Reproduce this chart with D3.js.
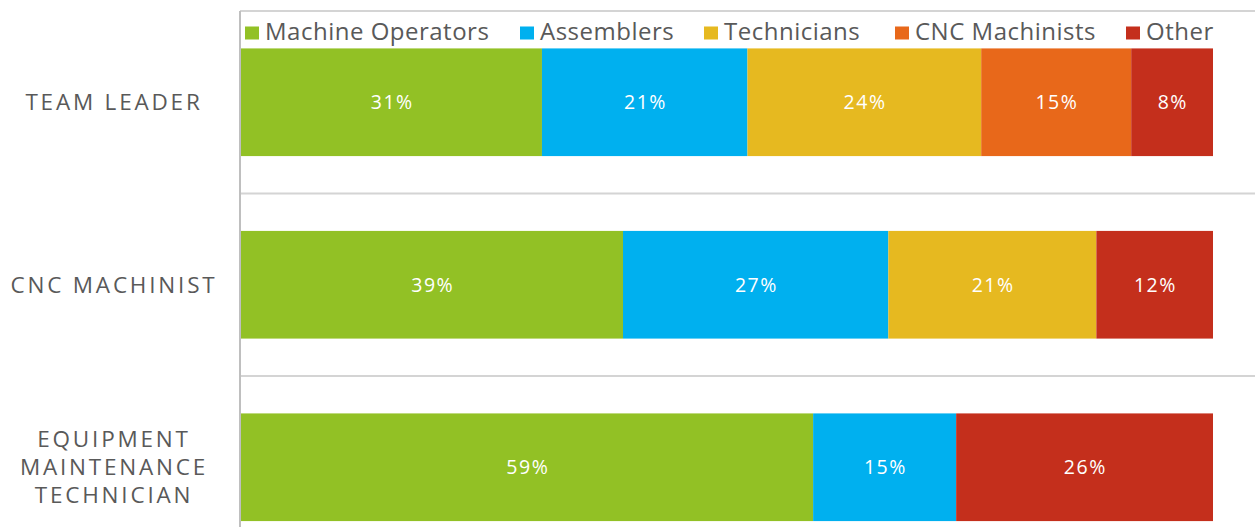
<!DOCTYPE html>
<html>
<head>
<meta charset="utf-8">
<script src="https://cdn.jsdelivr.net/npm/d3@7"></script>
<style>
  html, body { margin: 0; padding: 0; background: #fff; }
  svg { display: block; }
</style>
</head>
<body>
<svg id="chart" width="1255" height="527"></svg>
<script>
// ---- data ----
const categories = ["TEAM LEADER", "CNC MACHINIST", "EQUIPMENT MAINTENANCE TECHNICIAN"];
const categoryLines = [["TEAM LEADER"], ["CNC MACHINIST"], ["EQUIPMENT", "MAINTENANCE", "TECHNICIAN"]];
const seriesNames = ["Machine Operators", "Assemblers", "Technicians", "CNC Machinists", "Other"];
const seriesColors = ["#92C125", "#00B0EF", "#E6B920", "#E8681A", "#C42F1C"];
const machineOperators = [30.9, 39.3, 58.8];
const assemblers = [21.1, 27.3, 14.7];
const technicians = [24.0, 21.4, 0];
const cncMachinists = [15.4, 0, 0];
const other = [8.4, 12.0, 26.4];

const seriesValues = [machineOperators, assemblers, technicians, cncMachinists, other];
const rows = categories.map((c, i) => {
  const r = { category: c };
  seriesNames.forEach((s, j) => r[s] = seriesValues[j][i]);
  return r;
});

const svg = d3.select("#chart");
const W = 1255, H = 527;
const plot = { left: 241, top: 11, right: 1213, bandH: 182.5 };
const FONT = "'Open Sans', sans-serif";

const x = d3.scaleLinear().domain([0, 1]).range([plot.left, plot.right]);
const y = d3.scaleBand().domain(categories)
  .range([plot.top, plot.top + plot.bandH * categories.length])
  .paddingInner(0.41).paddingOuter(0.205);

const stack = d3.stack().keys(seriesNames).offset(d3.stackOffsetExpand);
const stacked = stack(rows);

// gridlines (category separators)
const gridYs = d3.range(categories.length).map(i => plot.top + plot.bandH * i);
svg.append("g").selectAll("line").data(gridYs).join("line")
  .attr("x1", 240).attr("x2", W)
  .attr("y1", d => d).attr("y2", d => d)
  .attr("stroke", "#D4D4D4").attr("stroke-width", 2);

// bars
const fmt = d3.format(".0f");
const g = svg.append("g");
stacked.forEach((layer, j) => {
  const lg = g.append("g");
  const data = layer.filter(d => d[1] - d[0] > 0);
  lg.selectAll("rect").data(data).join("rect")
    .attr("x", d => x(d[0]))
    .attr("y", d => y(d.data.category))
    .attr("width", d => x(d[1]) - x(d[0]))
    .attr("height", y.bandwidth())
    .attr("fill", seriesColors[j]);
  lg.selectAll("text").data(data).join("text")
    .attr("x", d => (x(d[0]) + x(d[1])) / 2 + 0.75)
    .attr("y", d => y(d.data.category) + y.bandwidth() / 2 + 6.8)
    .attr("text-anchor", "middle")
    .attr("fill", "#fff")
    .attr("font-family", FONT)
    .attr("font-size", 19.5)
    .attr("letter-spacing", 1.5)
    .text(d => fmt(d.data[seriesNames[j]]) + "%");
});

// left axis line
svg.append("line")
  .attr("x1", 240).attr("x2", 240).attr("y1", plot.top).attr("y2", H)
  .attr("stroke", "#BFBFBF").attr("stroke-width", 2);

// category labels
const yLabels = svg.append("g");
categories.forEach((c, i) => {
  const lines = categoryLines[i];
  const cy = y(c) + y.bandwidth() / 2;
  const lh = 28;
  const t = yLabels.append("text")
    .attr("text-anchor", "middle")
    .attr("fill", "#595959")
    .attr("font-family", FONT)
    .attr("font-size", 22.5)
    .attr("letter-spacing", 2.8);
  lines.forEach((ln, k) => {
    t.append("tspan")
      .attr("x", 114)
      .attr("y", cy + (k - (lines.length - 1) / 2) * lh + 8)
      .text(ln);
  });
});

// legend
const legendX = [245, 520, 704, 895, 1126];
const leg = svg.append("g");
seriesNames.forEach((s, j) => {
  const lx = legendX[j];
  leg.append("rect").attr("x", lx).attr("y", 26.5).attr("width", 14).attr("height", 13)
    .attr("fill", seriesColors[j]);
  leg.append("text").attr("x", lx + 20).attr("y", 40)
    .attr("fill", "#595959")
    .attr("font-family", FONT)
    .attr("font-size", 24)
    .attr("letter-spacing", 0.5)
    .text(s);
});
</script>
</body>
</html>
